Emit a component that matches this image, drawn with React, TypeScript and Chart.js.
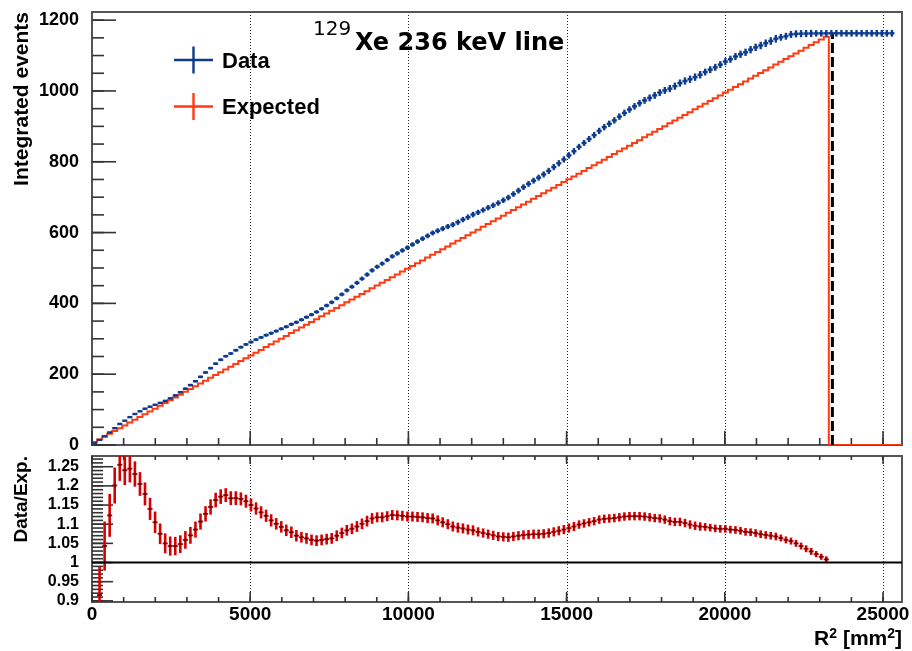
import React, { useEffect, useRef } from 'react';
import { Chart, registerables } from 'chart.js';

Chart.register(...registerables);

// Histogram binning in R² (mm²)
const binWidth = 159.5;
const xMax = 25600;

// Expected cumulative counts per bin: flat in R² up to the fiducial edge, empty beyond
const expectedCounts = [
  7.9, 15.8, 23.7, 31.6, 39.5, 47.4, 55.3, 63.2, 71.1, 79.0,
  86.9, 94.8, 102.7, 110.6, 118.5, 126.4, 134.3, 142.2, 150.1, 158.0,
  165.9, 173.8, 181.7, 189.6, 197.5, 205.4, 213.3, 221.2, 229.1, 237.0,
  244.9, 252.8, 260.7, 268.6, 276.5, 284.4, 292.3, 300.2, 308.1, 316.0,
  323.9, 331.8, 339.7, 347.6, 355.5, 363.4, 371.3, 379.2, 387.1, 395.0,
  402.9, 410.8, 418.7, 426.6, 434.5, 442.4, 450.3, 458.2, 466.1, 474.0,
  481.9, 489.8, 497.7, 505.6, 513.5, 521.4, 529.3, 537.2, 545.1, 553.0,
  560.9, 568.8, 576.7, 584.6, 592.5, 600.4, 608.3, 616.2, 624.1, 632.0,
  639.9, 647.8, 655.7, 663.6, 671.5, 679.4, 687.3, 695.2, 703.1, 711.0,
  718.9, 726.8, 734.7, 742.6, 750.5, 758.4, 766.3, 774.2, 782.1, 790.0,
  797.9, 805.8, 813.7, 821.6, 829.5, 837.4, 845.3, 853.2, 861.1, 869.0,
  876.9, 884.8, 892.7, 900.6, 908.5, 916.4, 924.3, 932.2, 940.1, 948.0,
  955.9, 963.8, 971.7, 979.6, 987.5, 995.4, 1003.3, 1011.2, 1019.1, 1027.0,
  1034.9, 1042.8, 1050.7, 1058.6, 1066.5, 1074.4, 1082.3, 1090.2, 1098.1, 1106.0,
  1113.9, 1121.8, 1129.7, 1137.6, 1145.5, 1153.4,
  0, 0, 0, 0, 0, 0, 0, 0, 0, 0, 0, 0, 0,
];

// Data / Expected in each filled bin
const ratioValues = [
  0.800, 0.915, 1.043, 1.123, 1.201, 1.255, 1.241, 1.245, 1.231, 1.205,
  1.179, 1.140, 1.105, 1.075, 1.050, 1.043, 1.043, 1.048, 1.059, 1.071,
  1.086, 1.107, 1.127, 1.145, 1.163, 1.172, 1.176, 1.168, 1.168, 1.166,
  1.160, 1.150, 1.141, 1.131, 1.122, 1.110, 1.101, 1.093, 1.084, 1.079,
  1.070, 1.066, 1.063, 1.059, 1.057, 1.059, 1.061, 1.063, 1.070, 1.077,
  1.084, 1.088, 1.094, 1.101, 1.108, 1.115, 1.118, 1.118, 1.121, 1.124,
  1.123, 1.122, 1.120, 1.120, 1.119, 1.118, 1.116, 1.115, 1.110, 1.105,
  1.100, 1.094, 1.091, 1.089, 1.086, 1.084, 1.080, 1.077, 1.074, 1.071,
  1.068, 1.067, 1.066, 1.068, 1.070, 1.072, 1.073, 1.074, 1.074, 1.075,
  1.077, 1.080, 1.083, 1.086, 1.090, 1.094, 1.099, 1.102, 1.105, 1.108,
  1.112, 1.114, 1.115, 1.116, 1.118, 1.120, 1.121, 1.121, 1.121, 1.120,
  1.118, 1.116, 1.115, 1.112, 1.108, 1.106, 1.106, 1.103, 1.099, 1.096,
  1.094, 1.093, 1.091, 1.089, 1.088, 1.088, 1.086, 1.085, 1.083, 1.080,
  1.079, 1.077, 1.074, 1.072, 1.070, 1.068, 1.064, 1.059, 1.056, 1.050,
  1.043, 1.036, 1.029, 1.022, 1.015, 1.0082,
];

// Uncertainty on the ratio in each filled bin
const ratioErrors = [
  0.100, 0.074, 0.064, 0.056, 0.047, 0.042, 0.039, 0.036, 0.033, 0.031,
  0.030, 0.029, 0.028, 0.027, 0.026, 0.025, 0.024, 0.023, 0.023, 0.022,
  0.021, 0.021, 0.020, 0.020, 0.019, 0.019, 0.018, 0.018, 0.018, 0.017,
  0.017, 0.017, 0.016, 0.016, 0.016, 0.016, 0.015, 0.015, 0.015, 0.015,
  0.015, 0.014, 0.014, 0.014, 0.014, 0.014, 0.014, 0.014, 0.014, 0.014,
  0.014, 0.014, 0.014, 0.014, 0.014, 0.014, 0.013, 0.013, 0.013, 0.013,
  0.013, 0.013, 0.013, 0.013, 0.013, 0.013, 0.013, 0.013, 0.013, 0.013,
  0.013, 0.013, 0.013, 0.013, 0.013, 0.013, 0.012, 0.012, 0.012, 0.012,
  0.012, 0.012, 0.012, 0.012, 0.012, 0.012, 0.012, 0.012, 0.012, 0.012,
  0.012, 0.012, 0.012, 0.012, 0.012, 0.012, 0.011, 0.011, 0.011, 0.011,
  0.011, 0.011, 0.011, 0.011, 0.011, 0.011, 0.011, 0.011, 0.011, 0.011,
  0.011, 0.011, 0.011, 0.011, 0.011, 0.011, 0.011, 0.011, 0.011, 0.011,
  0.011, 0.010, 0.010, 0.010, 0.010, 0.010, 0.010, 0.010, 0.010, 0.010,
  0.010, 0.010, 0.010, 0.010, 0.010, 0.010, 0.009, 0.009, 0.009, 0.009,
  0.009, 0.009, 0.009, 0.008, 0.008, 0.008,
];

// Cumulative data past the edge stays on its plateau
const dataPlateau = [
  1162.9, 1162.9, 1162.9, 1162.9, 1162.9, 1162.9, 1162.9,
  1162.9, 1162.9, 1162.9, 1162.9, 1162.9, 1162.9,
];
const plateauError = 9.5;

// Fiducial edge marker (mm²) and its height in events
const cutR2 = 23400;
const cutHeight = 1162.9;

// Axis ticks
const xTickValues = [0, 5000, 10000, 15000, 20000, 25000];
const xGridValues = [5000, 10000, 15000, 20000, 25000];
const countTickValues = [0, 200, 400, 600, 800, 1000, 1200];
const ratioTickValues = [0.9, 0.95, 1, 1.05, 1.1, 1.15, 1.2, 1.25];

const countMax = 1223;
const ratioMin = 0.897;
const ratioMax = 1.278;

const DATA_BLUE = '#0d3b8e';
const EXP_RED = '#ff3a12';
const RATIO_RED = '#d60000';
const SANS = "'Liberation Sans', Arial, Helvetica, sans-serif";
const DEJAVU = "'DejaVu Sans', sans-serif";

const binCenter = (i: number) => (i + 0.5) * binWidth;

const dataCounts = [...ratioValues.map((r, i) => r * expectedCounts[i]), ...dataPlateau];
const dataErrors = [
  ...ratioErrors.map((e, i) => e * expectedCounts[i]),
  ...dataPlateau.map(() => plateauError),
];

type TickSet = { side: 'left' | 'top' | 'bottom'; values: number[]; length: number };

function steps(first: number, step: number, last: number): number[] {
  const out: number[] = [];
  const n = Math.floor((last - first) / step + 1e-6);
  for (let k = 0; k <= n; k++) out.push(+(first + k * step).toFixed(6));
  return out;
}

function framePlugin(id: string, tickSets: TickSet[]) {
  return {
    id,
    beforeDatasetsDraw(chart: any) {
      const { ctx, chartArea: a, scales } = chart;
      ctx.save();
      // dotted vertical grid
      ctx.strokeStyle = '#222';
      ctx.lineWidth = 1;
      ctx.setLineDash([1, 2]);
      for (const v of xGridValues) {
        const px = Math.round(scales.x.getPixelForValue(v)) + 0.5;
        ctx.beginPath();
        ctx.moveTo(px, a.top);
        ctx.lineTo(px, a.bottom);
        ctx.stroke();
      }
      ctx.setLineDash([]);
      // frame
      ctx.strokeStyle = '#555';
      ctx.lineWidth = 2;
      ctx.strokeRect(a.left, a.top, a.right - a.left, a.bottom - a.top);
      // inward ticks
      ctx.strokeStyle = '#333';
      ctx.lineWidth = 1.6;
      for (const s of tickSets) {
        for (const v of s.values) {
          ctx.beginPath();
          if (s.side === 'left') {
            const py = scales.y.getPixelForValue(v);
            if (py < a.top - 0.5 || py > a.bottom + 0.5) continue;
            ctx.moveTo(a.left, py);
            ctx.lineTo(a.left + s.length, py);
          } else if (s.side === 'bottom') {
            const px = scales.x.getPixelForValue(v);
            ctx.moveTo(px, a.bottom);
            ctx.lineTo(px, a.bottom - s.length);
          } else {
            const px = scales.x.getPixelForValue(v);
            ctx.moveTo(px, a.top);
            ctx.lineTo(px, a.top + s.length);
          }
          ctx.stroke();
        }
      }
      ctx.restore();
    },
  };
}

// Draws each point of a dataset carrying crossStyle as a bin-wide bar with a vertical error bar
const crossPlugin = {
  id: 'errorCrosses',
  afterDatasetDraw(chart: any, args: any) {
    const ds: any = chart.data.datasets[args.index];
    const st = ds.crossStyle;
    if (!st) return;
    const { ctx, chartArea: a, scales } = chart;
    const xs = scales.x;
    const ys = scales.y;
    ctx.save();
    ctx.beginPath();
    ctx.rect(a.left, a.top, a.right - a.left, a.bottom - a.top);
    ctx.clip();
    ctx.lineCap = 'butt';
    for (const p of ds.data) {
      const cx = xs.getPixelForValue(p.x);
      const cy = ys.getPixelForValue(p.y);
      const xl = xs.getPixelForValue(p.x - binWidth / 2);
      const xr = xs.getPixelForValue(p.x + binWidth / 2);
      const yl = ys.getPixelForValue(p.y - p.err);
      const yh = ys.getPixelForValue(p.y + p.err);
      ctx.strokeStyle = st.vColor;
      ctx.lineWidth = st.vWidth;
      ctx.beginPath();
      ctx.moveTo(cx, yl);
      ctx.lineTo(cx, yh);
      ctx.stroke();
      ctx.strokeStyle = st.hColor;
      ctx.lineWidth = st.hWidth;
      ctx.beginPath();
      ctx.moveTo(xl, cy);
      ctx.lineTo(xr, cy);
      ctx.stroke();
      if (st.dot) {
        ctx.fillStyle = st.dot;
        ctx.fillRect(cx - 1, cy - 1, 2, 2);
      }
    }
    ctx.restore();
  },
};

function drawLegendCross(ctx: CanvasRenderingContext2D, cx: number, cy: number, color: string) {
  ctx.strokeStyle = color;
  ctx.lineWidth = 2.4;
  ctx.beginPath();
  ctx.moveTo(cx - 19.5, cy);
  ctx.lineTo(cx + 19.5, cy);
  ctx.moveTo(cx, cy - 13.5);
  ctx.lineTo(cx, cy + 13.5);
  ctx.stroke();
}

const topTextPlugin = {
  id: 'topText',
  afterDraw(chart: any) {
    const ctx: CanvasRenderingContext2D = chart.ctx;
    ctx.save();
    ctx.fillStyle = '#000';
    ctx.textBaseline = 'alphabetic';
    ctx.textAlign = 'left';
    ctx.font = `20px ${DEJAVU}`;
    ctx.fillText('129', 313, 35);
    ctx.font = `bold 24px ${DEJAVU}`;
    ctx.fillText('Xe 236 keV line', 355, 50);

    drawLegendCross(ctx, 193.5, 60, DATA_BLUE);
    drawLegendCross(ctx, 193.5, 106.5, EXP_RED);
    ctx.fillStyle = '#000';
    ctx.font = `bold 22px ${SANS}`;
    ctx.fillText('Data', 222, 68);
    ctx.fillText('Expected', 222, 114);

    ctx.translate(27.5, 12);
    ctx.rotate(-Math.PI / 2);
    ctx.textAlign = 'right';
    ctx.font = `bold 21px ${SANS}`;
    ctx.fillText('Integrated events', 0, 0);
    ctx.restore();
  },
};

const bottomTextPlugin = {
  id: 'bottomText',
  afterDraw(chart: any) {
    const ctx: CanvasRenderingContext2D = chart.ctx;
    ctx.save();
    ctx.fillStyle = '#000';
    ctx.textBaseline = 'alphabetic';
    const big = `bold 21px ${SANS}`;
    const small = `bold 14px ${SANS}`;
    const pieces = [
      { t: 'R', f: big, dy: 0 },
      { t: '2', f: small, dy: -7 },
      { t: ' [mm', f: big, dy: 0 },
      { t: '2', f: small, dy: -7 },
      { t: ']', f: big, dy: 0 },
    ];
    let total = 0;
    for (const p of pieces) {
      ctx.font = p.f;
      total += ctx.measureText(p.t).width;
    }
    let x = 902 - total;
    ctx.textAlign = 'left';
    for (const p of pieces) {
      ctx.font = p.f;
      ctx.fillText(p.t, x, 645 + p.dy);
      x += ctx.measureText(p.t).width;
    }

    ctx.translate(26.5, 456);
    ctx.rotate(-Math.PI / 2);
    ctx.textAlign = 'right';
    ctx.font = `bold 19px ${SANS}`;
    ctx.fillText('Data/Exp.', 0, 0);
    ctx.restore();
  },
};

const fixedY = (width: number) => (s: any) => {
  s.width = width;
  s.paddingTop = 0;
  s.paddingBottom = 0;
};
const fixedX = (height: number) => (s: any) => {
  s.height = height;
  s.paddingLeft = 0;
  s.paddingRight = 0;
};

function topConfig(): any {
  const expectedSteps = expectedCounts.map((v, i) => ({ x: i * binWidth, y: v }));
  expectedSteps.push({ x: xMax, y: expectedCounts[expectedCounts.length - 1] });
  const dataPoints = dataCounts.map((v, i) => ({ x: binCenter(i), y: v, err: dataErrors[i] }));
  return {
    type: 'scatter',
    data: {
      datasets: [
        {
          type: 'line',
          label: 'Expected',
          data: expectedSteps,
          borderColor: EXP_RED,
          borderWidth: 2,
          stepped: 'before',
          pointRadius: 0,
          fill: false,
          order: 3,
        },
        {
          type: 'line',
          label: 'Edge',
          data: [
            { x: cutR2, y: 0 },
            { x: cutR2, y: cutHeight },
          ],
          borderColor: '#000',
          borderWidth: 3,
          borderDash: [10, 4],
          pointRadius: 0,
          fill: false,
          order: 2,
        },
        {
          type: 'scatter',
          label: 'Data',
          data: dataPoints,
          pointRadius: 0,
          showLine: false,
          order: 1,
          crossStyle: { vColor: DATA_BLUE, vWidth: 2.4, hColor: DATA_BLUE, hWidth: 2.4 },
        },
      ],
    },
    options: {
      animation: false,
      responsive: false,
      devicePixelRatio: 1,
      events: [],
      layout: { padding: { left: 0, top: 12, right: 10, bottom: 206 } },
      plugins: { legend: { display: false }, tooltip: { enabled: false } },
      scales: {
        x: {
          type: 'linear',
          min: 0,
          max: xMax,
          grid: { display: false },
          border: { display: false },
          ticks: { display: false },
          afterFit: fixedX(0),
        },
        y: {
          type: 'linear',
          min: 0,
          max: countMax,
          grid: { display: false },
          border: { display: false },
          ticks: {
            color: '#000',
            padding: 5,
            autoSkip: false,
            font: { family: SANS, size: 18, weight: 'bold' },
            callback: (v: number) => String(v),
          },
          afterBuildTicks: (s: any) => {
            s.ticks = countTickValues.map((value) => ({ value }));
          },
          afterFit: fixedY(92),
        },
      },
    },
    plugins: [
      framePlugin('topFrame', [
        { side: 'left', values: countTickValues, length: 24 },
        { side: 'left', values: steps(0, 50, countMax), length: 12 },
        { side: 'bottom', values: xTickValues, length: 14 },
        { side: 'bottom', values: steps(0, 1000, xMax), length: 7 },
      ]),
      crossPlugin,
      topTextPlugin,
    ],
  };
}

function bottomConfig(): any {
  const ratioPoints = ratioValues.map((r, i) => ({ x: binCenter(i), y: r, err: ratioErrors[i] }));
  return {
    type: 'scatter',
    data: {
      datasets: [
        {
          type: 'line',
          label: 'Unity',
          data: [
            { x: 0, y: 1 },
            { x: xMax, y: 1 },
          ],
          borderColor: '#000',
          borderWidth: 2,
          pointRadius: 0,
          fill: false,
          order: 0,
        },
        {
          type: 'scatter',
          label: 'Data/Exp.',
          data: ratioPoints,
          pointRadius: 0,
          showLine: false,
          order: 1,
          crossStyle: { vColor: RATIO_RED, vWidth: 2.6, hColor: '#b00000', hWidth: 1.8, dot: '#5a0000' },
        },
      ],
    },
    options: {
      animation: false,
      responsive: false,
      devicePixelRatio: 1,
      events: [],
      layout: { padding: { left: 0, top: 456, right: 10, bottom: 19 } },
      plugins: { legend: { display: false }, tooltip: { enabled: false } },
      scales: {
        x: {
          type: 'linear',
          min: 0,
          max: xMax,
          grid: { display: false },
          border: { display: false },
          ticks: {
            color: '#000',
            padding: -7,
            autoSkip: false,
            maxRotation: 0,
            minRotation: 0,
            font: { family: SANS, size: 19, weight: 'bold' },
            callback: (v: number) => String(v),
          },
          afterBuildTicks: (s: any) => {
            s.ticks = xTickValues.map((value) => ({ value }));
          },
          afterFit: fixedX(30),
        },
        y: {
          type: 'linear',
          min: ratioMin,
          max: ratioMax,
          grid: { display: false },
          border: { display: false },
          ticks: {
            color: '#000',
            padding: 5,
            autoSkip: false,
            font: { family: SANS, size: 16, weight: 'bold' },
            callback: (v: number) => String(v),
          },
          afterBuildTicks: (s: any) => {
            s.ticks = ratioTickValues.map((value) => ({ value }));
          },
          afterFit: fixedY(92),
        },
      },
    },
    plugins: [
      framePlugin('bottomFrame', [
        { side: 'left', values: ratioTickValues, length: 21 },
        { side: 'left', values: steps(0.9, 0.01, ratioMax), length: 11 },
        { side: 'top', values: xTickValues, length: 8 },
        { side: 'top', values: steps(0, 1000, xMax), length: 4 },
        { side: 'bottom', values: xTickValues, length: 10 },
        { side: 'bottom', values: steps(0, 1000, xMax), length: 5 },
      ]),
      crossPlugin,
      bottomTextPlugin,
    ],
  };
}

export default function App() {
  const topRef = useRef<HTMLCanvasElement>(null);
  const bottomRef = useRef<HTMLCanvasElement>(null);

  useEffect(() => {
    const top = new Chart(topRef.current as HTMLCanvasElement, topConfig());
    const bottom = new Chart(bottomRef.current as HTMLCanvasElement, bottomConfig());
    return () => {
      top.destroy();
      bottom.destroy();
    };
  }, []);

  return (
    <div style={{ position: 'fixed', left: 0, top: 0, width: 912, height: 651, background: '#fff' }}>
      <canvas ref={topRef} width={912} height={651} style={{ position: 'absolute', left: 0, top: 0 }} />
      <canvas ref={bottomRef} width={912} height={651} style={{ position: 'absolute', left: 0, top: 0 }} />
    </div>
  );
}
